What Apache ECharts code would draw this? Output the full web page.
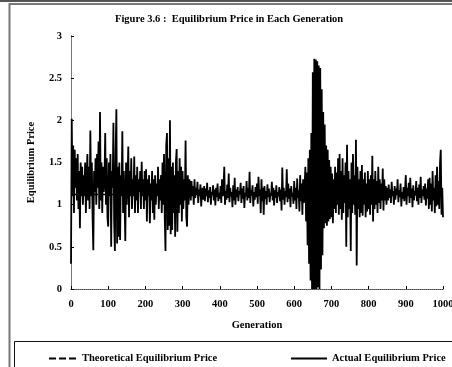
<!DOCTYPE html>
<html>
<head>
<meta charset="utf-8">
<title>Equilibrium Price in Each Generation</title>
<script src="https://cdn.jsdelivr.net/npm/echarts@6/dist/echarts.min.js"></script>
<style>
  html, body { margin: 0; padding: 0; background: #fff; }
  #main { width: 452px; height: 367px; }
</style>
</head>
<body>
<div id="main"></div>
<script>
// prices, one value every 2 generations
const priceEarly = [ // gen 0 - 318
  0.3, 2.02, 1.1, 1.7, 0.9, 1.65, 1.2, 1.55, 1.05, 1.6,
  0.95, 1.4, 0.72, 1.5, 1.1, 1.45, 1.0, 1.35, 1.1, 1.5,
  0.9, 1.3, 1.6, 1.05, 1.45, 0.95, 1.88, 1.1, 1.5, 0.85,
  0.46, 1.4, 1.15, 1.55, 1.0, 1.6, 1.2, 1.75, 0.95, 2.1,
  1.05, 1.5, 0.9, 1.45, 1.15, 1.3, 1.85, 1.0, 1.55, 0.85,
  0.74, 1.5, 1.1, 1.6, 0.5, 1.4, 1.2, 1.97, 0.8, 0.45,
  1.6, 2.13, 0.54, 1.45, 0.62, 1.5, 0.58, 1.35, 1.1, 1.87,
  0.9, 1.4, 1.05, 0.57, 1.5, 1.0, 1.3, 1.69, 0.85, 1.4,
  1.1, 1.55, 0.95, 1.3, 1.1, 1.57, 0.9, 1.35, 1.05, 1.45,
  0.9, 1.3, 1.15, 1.4, 0.95, 1.51, 1.1, 1.3, 0.95, 1.4,
  1.05, 1.42, 0.8, 1.3, 1.1, 1.35, 0.78, 1.25, 1.05, 1.4,
  0.9, 1.3, 0.82, 1.35, 1.0, 1.25, 1.1, 1.45, 0.95, 1.3,
  1.05, 1.35, 0.9, 1.5, 1.0, 1.6, 0.85, 0.45, 1.7, 1.85,
  0.7, 1.55, 0.75, 2.0, 0.65, 1.45, 0.7, 1.5, 0.9, 1.35,
  0.62, 1.5, 1.66, 0.68, 1.4, 0.9, 1.55, 1.0, 1.45, 0.8,
  1.4, 0.95, 1.3, 1.05, 1.76, 0.85, 0.74, 1.35, 1.0, 1.3
];
const priceCalm1 = [ // gen 320 - 628
  1.25, 1.05, 1.28, 1.1, 1.22, 1.0, 1.3, 1.08, 1.2, 1.12,
  1.27, 1.02, 1.18, 1.1, 1.24, 0.98, 1.15, 1.2, 1.06, 1.22,
  1.04, 1.19, 1.1, 1.26, 1.03, 1.17, 1.08, 1.21, 1.0, 1.15,
  1.12, 1.23, 1.05, 1.18, 0.99, 1.2, 1.09, 1.25, 1.04, 1.14,
  1.07, 1.22, 1.02, 1.3, 1.1, 1.19, 1.45, 1.0, 1.16, 1.06,
  1.24, 1.08, 1.37, 1.03, 1.2, 1.1, 1.15, 0.97, 1.23, 1.05,
  1.32, 1.0, 1.18, 1.09, 1.21, 1.04, 1.16, 1.12, 1.26, 1.02,
  1.19, 1.07, 1.22, 0.96, 1.14, 1.1, 1.28, 1.05, 1.2, 1.08,
  1.39, 1.02, 1.17, 1.11, 1.23, 0.98, 1.15, 1.06, 1.21, 1.09,
  1.25, 1.01, 1.33, 1.1, 1.18, 0.9, 1.3, 1.04, 1.2, 0.88,
  1.22, 1.07, 1.16, 1.0, 1.24, 1.09, 1.19, 1.03, 1.14, 1.11,
  1.27, 1.05, 1.2, 0.99, 1.17, 1.08, 1.23, 1.02, 1.15, 1.1,
  1.21, 1.04, 1.18, 0.93, 1.44, 1.06, 1.2, 1.0, 1.16, 1.09,
  1.42, 1.03, 1.25, 1.07, 1.19, 0.97, 1.22, 1.1, 1.14, 1.01,
  1.28, 1.05, 1.2, 0.95, 1.31, 1.08, 1.17, 0.92, 1.35, 1.04,
  1.25, 0.88, 1.3, 1.02, 1.22
];
const priceCrash = [ // gen 630 - 678
  1.45, 0.8, 1.38, 0.52, 1.55, 0.3, 1.65, 0.1, 1.85, 0.0,
  2.57, 0.0, 2.73, 0.0, 2.72, 0.0, 2.7, 0.02, 2.65, 0.0,
  2.62, 0.23, 2.37, 0.4, 2.1
];
const priceAfter = [ // gen 680 - 848
  0.72, 1.95, 0.78, 1.7, 0.75, 1.65, 0.8, 1.53, 0.83, 1.45,
  0.85, 1.37, 0.78, 1.3, 0.95, 1.45, 0.9, 1.38, 1.0, 1.55,
  0.88, 1.6, 0.95, 1.4, 0.82, 1.55, 0.9, 1.35, 1.02, 1.5,
  0.5, 1.71, 0.85, 1.4, 0.95, 1.3, 0.45, 1.5, 0.9, 1.6,
  1.0, 1.35, 0.88, 1.77, 0.28, 1.45, 0.95, 1.3, 0.85, 1.4,
  0.9, 1.47, 0.87, 1.3, 1.0, 1.38, 0.85, 1.25, 0.92, 1.4,
  0.95, 1.3, 0.88, 1.35, 1.0, 1.58, 0.8, 1.3, 0.95, 1.4,
  1.0, 1.28, 0.9, 1.45, 1.02, 1.3, 0.95, 1.25, 1.05, 1.43,
  0.93, 1.3, 1.05, 1.22, 1.0
];
const priceCalm2 = [ // gen 850 - 958
  1.2, 1.05, 1.24, 1.08, 1.18, 1.02, 1.27, 1.1, 1.16, 1.0,
  1.22, 1.06, 1.19, 1.12, 1.3, 1.03, 1.17, 1.09, 1.25, 0.98,
  1.15, 1.07, 1.21, 1.04, 1.18, 1.35, 1.0, 1.2, 1.1, 1.26,
  1.02, 1.32, 1.08, 1.19, 0.97, 1.23, 1.05, 1.16, 1.11, 1.28,
  1.04, 1.2, 1.0, 1.24, 1.08, 1.33, 1.02, 1.18, 1.1, 1.22,
  1.06, 1.25, 0.99, 1.19, 1.07
];
const priceLate = [ // gen 960 - 1000
  1.3, 0.95, 1.32, 1.0, 1.25, 0.92, 1.4, 1.05, 1.2, 0.9,
  1.35, 0.98, 1.45, 1.0, 1.28, 0.95, 1.5, 1.65, 0.88, 1.2, 0.85
];
const genStep = 2;
const theoreticalPrice = 1.12;
const xTicks = [0, 1000, 100];   // min, max, interval
const yTicks = [0, 3, 0.5];

const actualPrice = [].concat(priceEarly, priceCalm1, priceCrash, priceAfter, priceCalm2, priceLate);
const actualData = actualPrice.map((v, i) => [i * genStep, v]);
const theoryData = [[xTicks[0], theoreticalPrice], [xTicks[1], theoreticalPrice]];

const serif = "'Liberation Serif', 'Times New Roman', serif";
const boldText = { color: '#000', fontFamily: serif, fontWeight: 'bold' };

const chart = echarts.init(document.getElementById('main'), null, { renderer: 'canvas' });
chart.setOption({
  animation: false,
  backgroundColor: '#fff',
  title: {
    text: 'Figure 3.6 :  Equilibrium Price in Each Generation',
    left: 115,
    top: 14,
    padding: 0,
    textStyle: Object.assign({ fontSize: 10.5 }, boldText),
  },
  // outer frame and legend box
  graphic: [
    { type: 'line', shape: { x1: 0, y1: 1, x2: 452, y2: 1 }, style: { stroke: '#555', lineWidth: 2 } },
    { type: 'rect', shape: { x: 9.5, y: 4, width: 500, height: 420 }, style: { fill: 'none', stroke: '#777', lineWidth: 2 } },
    { type: 'rect', shape: { x: 14.5, y: 341.5, width: 500, height: 100 }, style: { fill: 'none', stroke: '#111', lineWidth: 1 } },
  ],
  legend: [
    {
      data: ['Theoretical Equilibrium Price'],
      left: 43,
      top: 348,
      itemWidth: 28,
      itemHeight: 12,
      itemGap: 5,
      itemStyle: { opacity: 0 },
      textStyle: Object.assign({ fontSize: 10.5 }, boldText),
    },
    {
      data: ['Actual Equilibrium Price'],
      left: 285,
      top: 348,
      itemWidth: 36,
      itemHeight: 12,
      itemStyle: { opacity: 0 },
      textStyle: Object.assign({ fontSize: 10.5 }, boldText),
    },
  ],
  grid: {
    left: 71,
    top: 36,
    right: 9,
    bottom: 78,
    containLabel: false,
    outerBoundsMode: 'none',
  },
  xAxis: [
    {
      type: 'value',
      min: xTicks[0],
      max: xTicks[1],
      interval: xTicks[2],
      name: 'Generation',
      nameLocation: 'middle',
      nameGap: 31,
      nameTextStyle: Object.assign({ fontSize: 10.5 }, boldText),
      axisLine: { onZero: false, lineStyle: { color: '#000', width: 1 } },
      axisTick: { inside: true, length: 3, lineStyle: { color: '#000' } },
      axisLabel: Object.assign({ fontSize: 10.5, margin: 10, formatter: (v) => String(v) }, boldText),
      splitLine: { show: false },
    },
    {
      // dotted top edge of the plot area
      type: 'value',
      position: 'top',
      min: xTicks[0],
      max: xTicks[1],
      axisLine: { show: true, lineStyle: { color: '#777', type: 'dotted', width: 1 } },
      axisTick: { show: false },
      axisLabel: { show: false },
      splitLine: { show: false },
    },
  ],
  yAxis: [
    {
      type: 'value',
      min: yTicks[0],
      max: yTicks[1],
      interval: yTicks[2],
      name: 'Equilibrium Price',
      nameLocation: 'middle',
      nameRotate: 90,
      nameGap: 34,
      nameTextStyle: Object.assign({ fontSize: 10.5 }, boldText),
      axisLine: { show: true, onZero: false, lineStyle: { color: '#333', type: 'dotted', width: 1 } },
      axisTick: { show: true, inside: true, length: 3, lineStyle: { color: '#000' } },
      axisLabel: Object.assign({ fontSize: 10.5, margin: 9 }, boldText),
      splitLine: { show: false },
    },
    {
      // dotted right edge of the plot area
      type: 'value',
      position: 'right',
      min: yTicks[0],
      max: yTicks[1],
      axisLine: { show: true, lineStyle: { color: '#777', type: 'dotted', width: 1 } },
      axisTick: { show: false },
      axisLabel: { show: false },
      splitLine: { show: false },
    },
  ],
  series: [
    {
      name: 'Actual Equilibrium Price',
      type: 'line',
      data: actualData,
      symbol: 'none',
      z: 2,
      lineStyle: { color: '#000', width: 1.8 },
      itemStyle: { color: '#000' },
    },
    {
      name: 'Theoretical Equilibrium Price',
      type: 'line',
      data: theoryData,
      symbol: 'none',
      z: 3,
      lineStyle: { color: '#000', width: 1.5, type: [7, 3] },
      itemStyle: { color: '#000' },
    },
  ],
});
</script>
</body>
</html>
